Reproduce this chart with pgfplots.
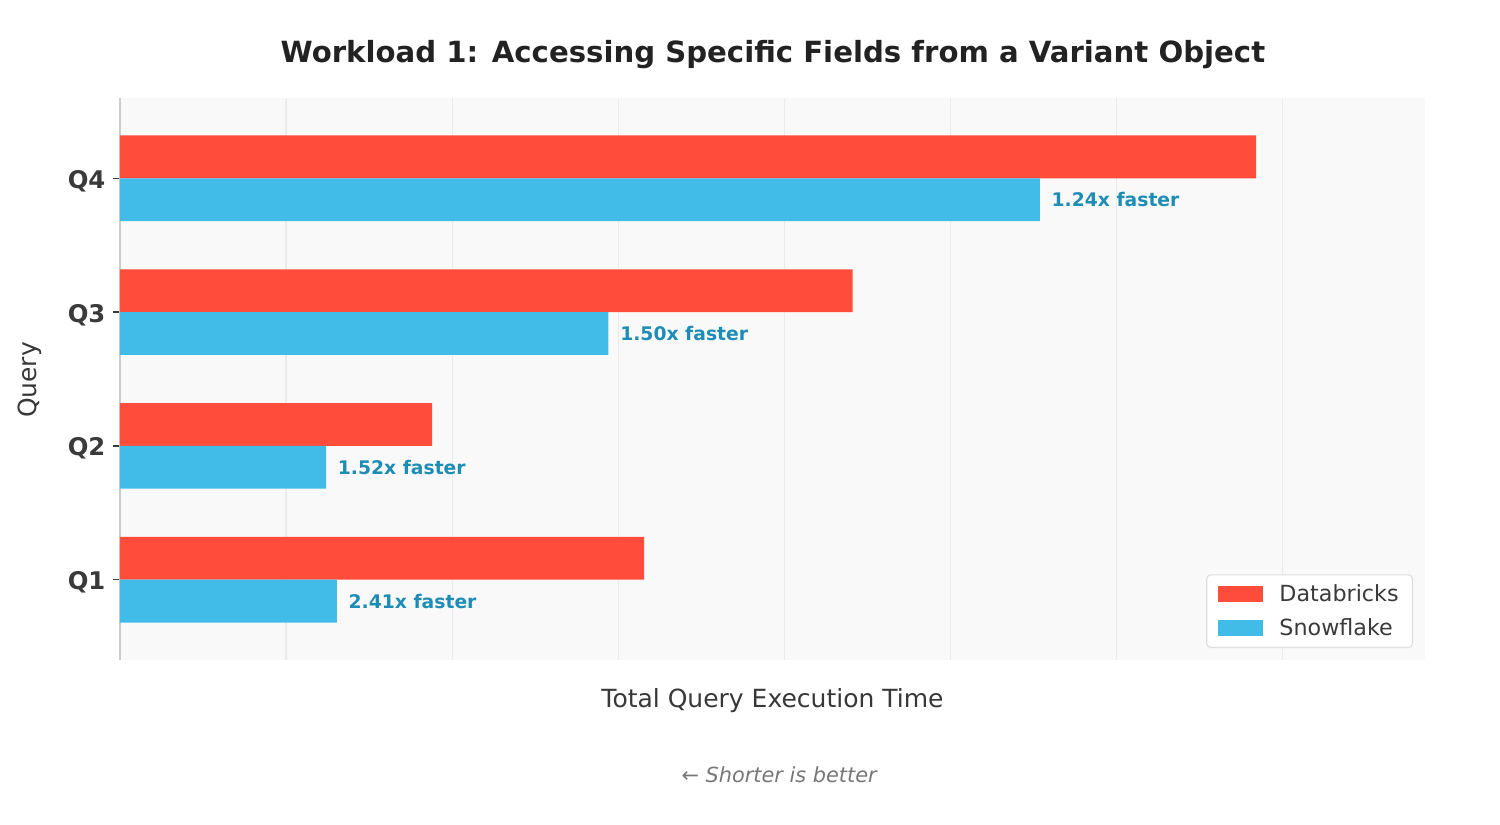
\documentclass[border=0pt]{standalone}
\usepackage{pgfplots}
\pgfplotsset{compat=1.18}
\usepackage{fontspec}
\setmainfont{DejaVu Sans}
\definecolor{dbred}{HTML}{FF4C3B}
\definecolor{snblue}{HTML}{41BCE8}
\definecolor{labblue}{HTML}{1E8DB5}
\definecolor{bgc}{HTML}{F9F9F9}
\definecolor{gridc}{HTML}{EBEBEB}
\definecolor{spine}{HTML}{CCCCCC}
\definecolor{titlec}{HTML}{222222}
\definecolor{tickc}{HTML}{3A3A3A}
\definecolor{subc}{HTML}{777777}
\begin{document}
\begin{tikzpicture}
\useasboundingbox (0,0) rectangle (1080pt,594pt);
\begin{axis}[
  at={(86.4pt,118.8pt)}, anchor=south west,
  scale only axis, width=939.6pt, height=404.64pt,
  xmin=0, xmax=7.86, ymin=-0.6, ymax=3.6,
  bar width=0.32,
  axis background/.style={fill=bgc},
  axis y line*=left, axis x line*=bottom,
  x axis line style={draw=none},
  y axis line style={draw=spine, line width=1.2pt, -},
  xtick={1,2,3,4,5,6,7}, xticklabels={},
  xmajorgrids, major grid style={draw=gridc, line width=0.8pt},
  x tick style={draw=none}, major tick length=5pt,
  ytick={0,1,2,3}, yticklabels={\textbf{Q1},\textbf{Q2},\textbf{Q3},\textbf{Q4}},
  y tick style={draw=tickc, line width=0.9pt},
  tick align=outside,
  yticklabel style={font=\fontsize{17.5}{20}\selectfont, text=tickc, xshift=-2pt, yshift=-2pt},
  legend style={at={(1,0)}, anchor=south east, xshift=-8.6pt, yshift=8.6pt,
    draw=gray!25, rounded corners=3pt, fill=white, line width=0.8pt,
    font=\fontsize{16}{19}\selectfont, text=tickc, row sep=7pt, column sep=10pt,
    inner xsep=8pt, inner ysep=5pt},
  legend cell align=left,
  legend image code/.code={\fill[#1, draw=none, sharp corners] (0pt,-5.8pt) rectangle (32.4pt,5.8pt);},
]
\addplot[xbar, fill=dbred, draw=none, bar shift=0.16] coordinates {
  (3.157,0) (1.880,1) (4.413,2) (6.843,3)
};
\addlegendentry{Databricks}
\addplot[xbar, fill=snblue, draw=none, bar shift=-0.16] coordinates {
  (1.306,0) (1.241,1) (2.942,2) (5.540,3)
};
\addlegendentry{Snowflake}
\addplot[only marks, mark=none, point meta=explicit symbolic, nodes near coords,
  every node near coord/.style={anchor=west, xshift=5pt, font=\bfseries\fontsize{13.5}{16}\selectfont, text=labblue},
  forget plot] coordinates {
  (1.306,-0.16) [2.41x faster]
  (1.241,0.84) [1.52x faster]
  (2.942,1.84) [1.50x faster]
  (5.540,2.84) [1.24x faster]
};
\end{axis}
\node[font=\bfseries\fontsize{21}{25}\selectfont, text=titlec] at (556.5pt,554.4pt) {Workload 1: Accessing Specific Fields from a Variant Object};
\node[font=\fontsize{18}{21}\selectfont, text=titlec!90, rotate=90] at (21.6pt,320.4pt) {Query};
\node[font=\fontsize{18}{21}\selectfont, text=titlec!90] at (556.2pt,89.4pt) {Total Query Execution Time};
\node[font=\itshape\fontsize{15}{18}\selectfont, text=subc] at (561pt,36pt) {← Shorter is better};
\end{tikzpicture}
\end{document}
